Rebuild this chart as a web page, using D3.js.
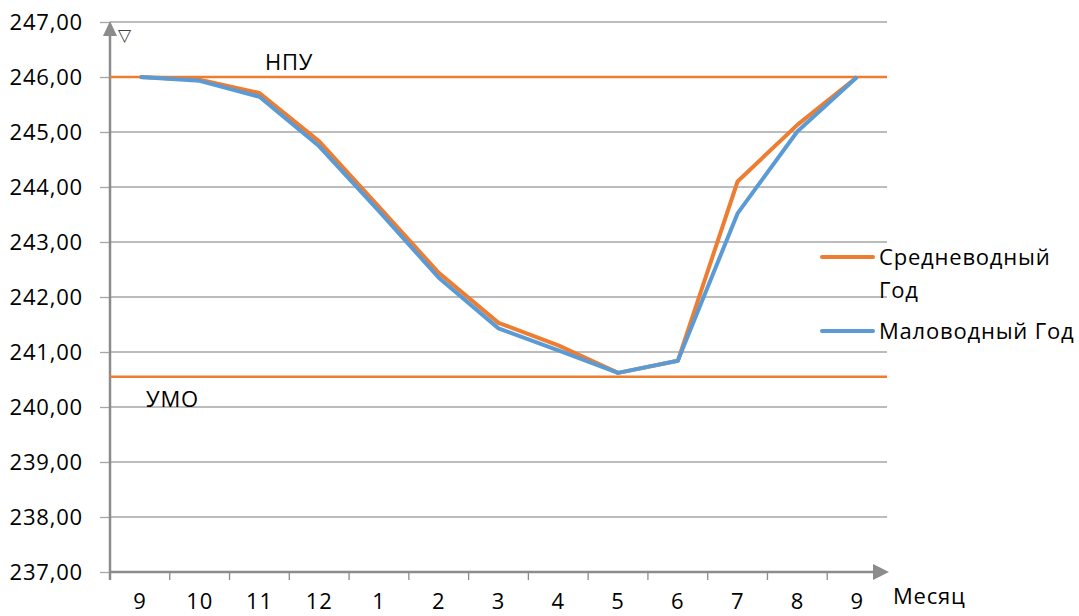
<!DOCTYPE html>
<html>
<head>
  <meta charset="utf-8">
  <script src="https://d3js.org/d3.v7.min.js"></script>
  <style>
    body { margin: 0; background: #fff; }
    text { font-family: "Open Sans", sans-serif; fill: #000; letter-spacing: 0.8px; }
  </style>
</head>
<body>
  <script>
    // month labels on x axis (Sept .. Sept)
    var months = ['9', '10', '11', '12', '1', '2', '3', '4', '5', '6', '7', '8', '9'];
    // reservoir level, m
    var srednevodny = [246.00, 245.95, 245.71, 244.83, 243.64, 242.44, 241.53, 241.12, 240.62, 240.84, 244.10, 245.13, 246.00];
    var malovodny = [246.00, 245.93, 245.64, 244.74, 243.56, 242.35, 241.43, 241.03, 240.62, 240.84, 243.52, 245.01, 246.00];
    var seriesNames = ['Средневодный Год', 'Маловодный Год'];
    var yTicks = [237, 238, 239, 240, 241, 242, 243, 244, 245, 246, 247];
    var npu = 246.00, umo = 240.55;

    var W = 1079, H = 616;
    var mLeft = 110, mRight = 887, mTop = 22, mBottom = 572;
    var fs = 22;
    var orange = '#ED7D31', blue = '#5B9BD5', axisColor = '#8c8c8c', gridColor = '#a6a6a6';

    var svg = d3.select('body').append('svg')
      .attr('width', W).attr('height', H);

    var x = d3.scaleBand().domain(d3.range(months.length)).range([mLeft, mRight]);
    var y = d3.scaleLinear().domain([237, 247]).range([mBottom, mTop]);

    var ru = d3.formatLocale({ decimal: ',', thousands: ' ', grouping: [3], currency: ['', ''] });
    var fmt = ru.format('.2f');

    // grid
    svg.append('g').selectAll('line')
      .data(yTicks.filter(function(d) { return d > 237; }))
      .enter().append('line')
      .attr('x1', mLeft).attr('x2', mRight)
      .attr('y1', function(d) { return y(d); }).attr('y2', function(d) { return y(d); })
      .attr('stroke', gridColor).attr('stroke-width', 1.3);

    // y axis
    var yAxis = d3.axisLeft(y).tickValues(yTicks).tickFormat(fmt).tickSize(10).tickPadding(17);
    var gy = svg.append('g').attr('transform', 'translate(' + mLeft + ',0)').call(yAxis);
    gy.select('.domain').remove();
    gy.selectAll('.tick line').attr('stroke', gridColor).attr('stroke-width', 1.3);
    gy.selectAll('.tick text').attr('font-size', fs).attr('font-family', '"Open Sans", sans-serif').attr('fill', '#000');

    // x axis: labels at band centres, ticks at band edges
    var xAxis = d3.axisBottom(x).tickFormat(function(i) { return months[i]; }).tickSize(0).tickPadding(21);
    var gx = svg.append('g').attr('transform', 'translate(0,' + mBottom + ')').call(xAxis);
    gx.select('.domain').remove();
    gx.selectAll('.tick text').attr('font-size', fs).attr('font-family', '"Open Sans", sans-serif').attr('fill', '#000');

    svg.append('g').selectAll('line')
      .data(d3.range(months.length))
      .enter().append('line')
      .attr('x1', function(i) { return x(i); }).attr('x2', function(i) { return x(i); })
      .attr('y1', mBottom).attr('y2', mBottom + 8)
      .attr('stroke', axisColor).attr('stroke-width', 1.3);

    // axis lines with arrows
    svg.append('line').attr('x1', mLeft).attr('x2', mLeft).attr('y1', mTop + 12).attr('y2', mBottom + 8)
      .attr('stroke', axisColor).attr('stroke-width', 2.5);
    svg.append('path').attr('d', 'M' + mLeft + ',' + (mTop - 1) + 'L' + (mLeft - 7) + ',' + (mTop + 14) + 'L' + (mLeft + 7) + ',' + (mTop + 14) + 'Z')
      .attr('fill', axisColor);
    svg.append('line').attr('x1', mLeft).attr('x2', mRight - 12).attr('y1', mBottom).attr('y2', mBottom)
      .attr('stroke', axisColor).attr('stroke-width', 2.5);
    svg.append('path').attr('d', 'M' + (mRight + 2) + ',' + mBottom + 'L' + (mRight - 14) + ',' + (mBottom - 8) + 'L' + (mRight - 14) + ',' + (mBottom + 8) + 'Z')
      .attr('fill', axisColor);

    svg.append('text').attr('x', 125).attr('y', 41).attr('text-anchor', 'middle')
      .attr('font-size', 17).style('fill', '#404040').text('▽');

    // НПУ / УМО levels
    [npu, umo].forEach(function(v) {
      svg.append('line').attr('x1', mLeft).attr('x2', mRight)
        .attr('y1', y(v)).attr('y2', y(v))
        .attr('stroke', orange).attr('stroke-width', 2.5);
    });
    svg.append('text').attr('x', 265).attr('y', 70).attr('font-size', fs).text('НПУ');
    svg.append('text').attr('x', 146).attr('y', 407).attr('font-size', fs).text('УМО');

    // series
    var line = d3.line()
      .x(function(d, i) { return x(i) + x.bandwidth() / 2; })
      .y(function(d) { return y(d); });

    svg.append('path').datum(srednevodny).attr('d', line)
      .attr('fill', 'none').attr('stroke', orange).attr('stroke-width', 4).attr('stroke-linejoin', 'round');
    svg.append('path').datum(malovodny).attr('d', line)
      .attr('fill', 'none').attr('stroke', blue).attr('stroke-width', 4).attr('stroke-linejoin', 'round');

    // legend
    var legend = svg.append('g');
    legend.append('line').attr('x1', 822).attr('x2', 873).attr('y1', 257).attr('y2', 257)
      .attr('stroke', orange).attr('stroke-width', 4).attr('stroke-linecap', 'round');
    legend.append('text').attr('x', 879).attr('y', 265).attr('font-size', fs).text('Средневодный');
    legend.append('text').attr('x', 879).attr('y', 298).attr('font-size', fs).text('Год');
    legend.append('line').attr('x1', 822).attr('x2', 873).attr('y1', 331).attr('y2', 331)
      .attr('stroke', blue).attr('stroke-width', 4).attr('stroke-linecap', 'round');
    legend.append('text').attr('x', 879).attr('y', 339).attr('font-size', fs).text(seriesNames[1]);

    svg.append('text').attr('x', 893).attr('y', 604).attr('font-size', fs).text('Месяц');
  </script>
</body>
</html>
